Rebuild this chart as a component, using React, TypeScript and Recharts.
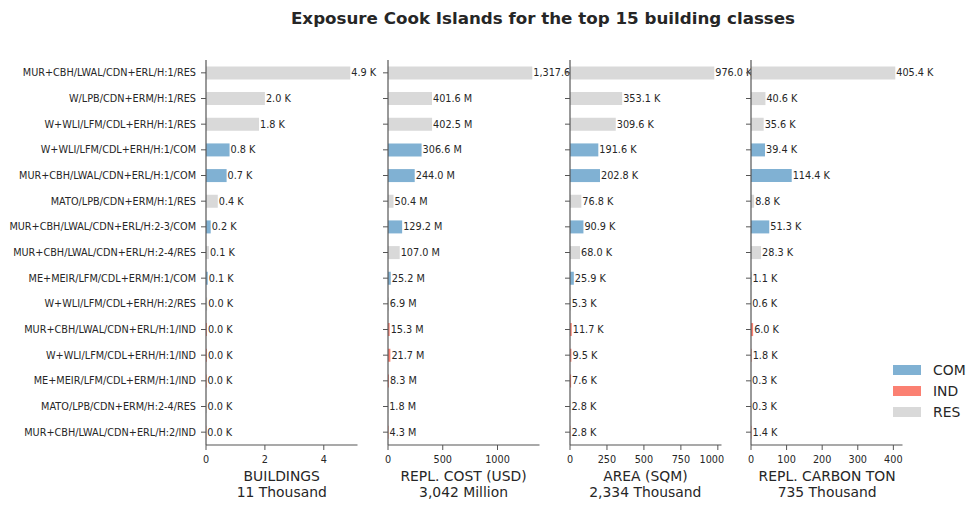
import React from 'react';
import { BarChart, Bar, XAxis, YAxis, Cell, LabelList, CartesianGrid } from 'recharts';

const classes = [
  'MUR+CBH/LWAL/CDN+ERL/H:1/RES',
  'W/LPB/CDN+ERM/H:1/RES',
  'W+WLI/LFM/CDL+ERH/H:1/RES',
  'W+WLI/LFM/CDL+ERH/H:1/COM',
  'MUR+CBH/LWAL/CDN+ERL/H:1/COM',
  'MATO/LPB/CDN+ERM/H:1/RES',
  'MUR+CBH/LWAL/CDN+ERL/H:2-3/COM',
  'MUR+CBH/LWAL/CDN+ERL/H:2-4/RES',
  'ME+MEIR/LFM/CDL+ERM/H:1/COM',
  'W+WLI/LFM/CDL+ERH/H:2/RES',
  'MUR+CBH/LWAL/CDN+ERL/H:1/IND',
  'W+WLI/LFM/CDL+ERH/H:1/IND',
  'ME+MEIR/LFM/CDL+ERM/H:1/IND',
  'MATO/LPB/CDN+ERM/H:2-4/RES',
  'MUR+CBH/LWAL/CDN+ERL/H:2/IND',
];

// thousands
const buildings = [4.9, 2.0, 1.8, 0.8, 0.7, 0.4, 0.16, 0.1, 0.06, 0.04, 0.03, 0.03, 0.02, 0.02, 0.01];
// millions USD
const replCost = [1317.6, 401.6, 402.5, 306.6, 244.0, 50.4, 129.2, 107.0, 25.2, 6.9, 15.3, 21.7, 8.3, 1.8, 4.3];
// thousand sqm
const area = [976.0, 353.1, 309.6, 191.6, 202.8, 76.8, 90.9, 68.0, 25.9, 5.3, 11.7, 9.5, 7.6, 2.8, 2.8];
// thousand ton
const carbon = [405.4, 40.6, 35.6, 39.4, 114.4, 8.8, 51.3, 28.3, 1.1, 0.6, 6.0, 1.8, 0.3, 0.3, 1.4];

const panelValues = [buildings, replCost, area, carbon];
const panelTitles = ['BUILDINGS', 'REPL. COST (USD)', 'AREA (SQM)', 'REPL. CARBON TON'];
const panelTotals = ['11 Thousand', '3,042 Million', '2,334 Thousand', '735 Thousand'];
const panelUnits = ['K', 'M', 'K', 'K'];
const panelTicks = [
  [0, 2, 4],
  [0, 500, 1000],
  [0, 250, 500, 750, 1000],
  [0, 100, 200, 300, 400],
];

const occupancyColors: Record<string, string> = {
  COM: '#80b1d3',
  IND: '#fb8072',
  RES: '#d9d9d9',
};
const legendItems = ['COM', 'IND', 'RES'];

const FONT = '"DejaVu Sans", sans-serif';
const TEXT = '#262626';
const LINE = '#555';
const PLOT_LEFT = 206;
const PLOT_W = 151.5;
const PANEL_STEP = 181.8;

const fmt = (v: number) =>
  v.toLocaleString('en-US', { minimumFractionDigits: 1, maximumFractionDigits: 1 });

function Panel({ index }: { index: number }) {
  const values = panelValues[index];
  const first = index === 0;
  const plotLeft = PLOT_LEFT + index * PANEL_STEP;
  const yW = first ? PLOT_LEFT : 12;
  const data = classes.map((name, i) => ({
    name,
    value: values[i],
    occ: name.split('/').pop() as string,
  }));
  const max = Math.max(...values);
  const unit = panelUnits[index];

  // plain text label, no wrapping
  const renderValue = (p: any) => (
    <text
      x={Number(p.x) + Number(p.width) + 1}
      y={Number(p.y) + Number(p.height) / 2}
      dy="0.355em"
      fontSize={9.7}
      fill={TEXT}
      fontFamily={FONT}
    >
      {`${fmt(Number(p.value))} ${unit}`}
    </text>
  );

  return (
    <div style={{ position: 'absolute', left: plotLeft - yW, top: 0 }}>
      <BarChart
        width={yW + PLOT_W}
        height={510}
        data={data}
        layout="vertical"
        margin={{ top: 60, right: 0, bottom: 0, left: 0 }}
        barCategoryGap="25%"
      >
        <CartesianGrid horizontal={false} vertical={false} fill="#fff" />
        <Bar dataKey="value" isAnimationActive={false}>
          {data.map((d) => (
            <Cell key={d.name} fill={occupancyColors[d.occ]} />
          ))}
          <LabelList dataKey="value" content={renderValue} />
        </Bar>
        <XAxis
          type="number"
          dataKey="value"
          domain={[0, max * 1.05]}
          ticks={panelTicks[index]}
          height={65}
          tickSize={5}
          tickMargin={6}
          axisLine={{ stroke: LINE, strokeWidth: 1.2 }}
          tickLine={{ stroke: LINE }}
          tick={{ fontSize: 9.7, fill: TEXT, fontFamily: FONT }}
        />
        <YAxis
          type="category"
          dataKey="name"
          width={yW}
          tickSize={5}
          tickMargin={5}
          interval={0}
          axisLine={{ stroke: LINE, strokeWidth: 1.2 }}
          tickLine={{ stroke: LINE }}
          tick={first ? { fontSize: 9.7, fill: TEXT, fontFamily: FONT } : () => <g />}
        />
      </BarChart>
      <div
        style={{
          position: 'absolute',
          left: yW,
          width: PLOT_W,
          top: 469.4,
          textAlign: 'center',
          fontSize: 13.9,
          lineHeight: '15.5px',
          color: TEXT,
          fontFamily: FONT,
          whiteSpace: 'nowrap',
        }}
      >
        <div>{panelTitles[index]}</div>
        <div>{panelTotals[index]}</div>
      </div>
    </div>
  );
}

export default function App() {
  return (
    <div style={{ position: 'relative', width: 980, height: 510, background: '#fff', fontFamily: FONT }}>
      <style>{'body{margin:0} .recharts-surface{overflow:visible}'}</style>
      <div
        style={{
          position: 'absolute',
          left: 0,
          width: 1086,
          top: 9.5,
          textAlign: 'center',
          fontSize: 16.7,
          lineHeight: 1,
          fontWeight: 'bold',
          color: TEXT,
          whiteSpace: 'nowrap',
        }}
      >
        Exposure Cook Islands for the top 15 building classes
      </div>
      {panelValues.map((_, i) => (
        <Panel key={i} index={i} />
      ))}
      {legendItems.map((occ, i) => (
        <div
          key={occ}
          style={{
            position: 'absolute',
            left: 893,
            top: 362 + i * 21,
            height: 16,
            display: 'flex',
            alignItems: 'center',
            fontSize: 13.9,
            lineHeight: '16px',
            color: TEXT,
          }}
        >
          <span style={{ width: 28, height: 10, background: occupancyColors[occ], display: 'inline-block' }} />
          <span style={{ marginLeft: 12 }}>{occ}</span>
        </div>
      ))}
    </div>
  );
}
